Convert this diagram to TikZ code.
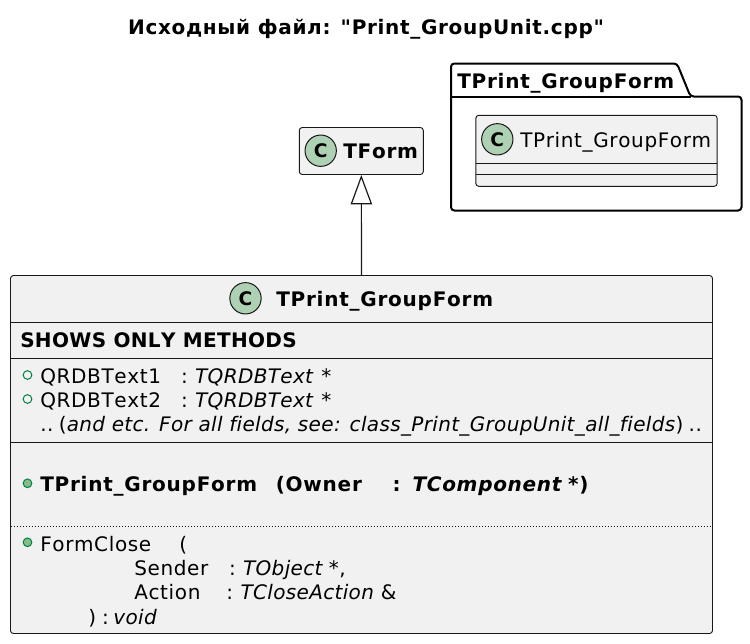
\documentclass[tikz,border=0pt]{standalone}
\usepackage{fontspec}
\usepackage{xcolor}
\usetikzlibrary{arrows.meta}
\setmainfont{DejaVu Sans}[
    Ligatures={TeXOff,CommonOff},
    Kerning=Off,
    UprightFeatures={LetterSpace=3.2},
    BoldFeatures={LetterSpace=3.8},
    ItalicFeatures={LetterSpace=1.7},
    BoldItalicFeatures={LetterSpace=3.5}
]
\newfontfamily\titlefont{DejaVu Sans}[
    Ligatures={TeXOff,CommonOff},
    Kerning=Off,
    BoldFeatures={LetterSpace=3.4}
]
\newfontfamily\stereofont{DejaVu Sans}[
    Ligatures={TeXOff,CommonOff},
    Kerning=Off,
    BoldFeatures={LetterSpace=1.7}
]

\definecolor{boxfill}{HTML}{F1F1F1}
\definecolor{boxline}{HTML}{181818}
\definecolor{spotfill}{HTML}{ADD1B2}
\definecolor{markline}{HTML}{038048}
\definecolor{markfill}{HTML}{84BE84}

\begin{document}
\begin{tikzpicture}[
    x=0.75pt,
    y=-0.75pt,
    classbox/.style={
        draw=boxline,
        fill=boxfill,
        rounded corners=2.2pt,
        line width=0.7pt,
        inner sep=0pt
    },
    spot/.style={
        circle,
        draw=boxline,
        fill=spotfill,
        line width=0.75pt,
        minimum size=23.5pt,
        inner sep=0pt,
        font=\fontsize{14}{14}\selectfont\bfseries
    },
    member/.style={
        anchor=base west,
        inner sep=0pt,
        font=\fontsize{15}{18}\selectfont
    },
    bold/.style={
        member,
        font=\fontsize{15}{18}\selectfont\bfseries
    },
    field/.style={
        circle,
        draw=markline,
        fill=boxfill,
        line width=0.75pt,
        minimum size=6.5pt,
        inner sep=0pt
    },
    method/.style={
        field,
        fill=markfill
    },
    divider/.style={
        draw=boxline,
        line width=0.7pt
    },
    inherit/.style={
        -{Triangle[open,length=22pt,width=16pt]},
        draw=boxline,
        line width=0.9pt
    }
]
\useasboundingbox (0,0) rectangle (750,643);

\node[anchor=base,inner sep=0pt,font=\titlefont\fontsize{15}{18}\selectfont\bfseries] (title) at (366,34)
{
    Исходный файл: "Print\_GroupUnit.cpp"
};

% package
\draw[line width=1.5pt,rounded corners=2.5pt,draw=black]
    (451,96.5) -- (451,63.5) -- (677,63.5) -- (690.5,96.5) -- (741.5,96.5)
    -- (741.5,210.5) -- (451,210.5) -- cycle;
\draw[line width=1.5pt,draw=black] (451,96.5) -- (690.5,96.5);

\node[bold] (pkglabel) at (457,88)
{
    TPrint\_GroupForm
};

\node[classbox,minimum width=181pt,minimum height=53.25pt] (inner) at (596.5,150.8) {};

\draw[divider] (475.7,163.3) -- (717.3,163.3);
\draw[divider] (475.7,174.3) -- (717.3,174.3);

\node[spot] (innerspot) at (497.3,139.3) {C};

\node[member] (innername) at (520,147.5)
{
    TPrint\_GroupForm
};

% base class
\node[classbox,minimum width=93pt,minimum height=35.25pt] (tform) at (361.3,151) {};

\node[spot] (tformspot) at (320.7,150.7) {C};

\node[bold] (tformname) at (343,158.5)
{
    TForm
};

% main class
\node[classbox,minimum width=526.5pt,minimum height=268.5pt] (main) at (361.5,454.5) {};

\node[spot] (mainspot) at (245.5,298.3) {C};

\node[bold] (mainname) at (276,306)
{
    TPrint\_GroupForm
};

\draw[divider] (10.5,322.3) -- (712.5,322.3);
\draw[divider] (10.5,358.3) -- (712.5,358.3);
\draw[divider] (10.5,442.3) -- (712.5,442.3);
\draw[divider,dash pattern=on 0.75pt off 1.5pt] (10.5,526.7) -- (712.5,526.7);

\node[member,font=\stereofont\fontsize{15}{18}\selectfont\bfseries] (stereo) at (20,347.3)
{
    SHOWS ONLY METHODS
};

\node[field] (markone) at (27.5,375) {};
\node[member] (fieldone) at (40,383.3)
{
    QRDBText1\hspace{15pt}:\hspace{5.5pt}\textit{TQRDBText}\hspace{5.5pt}*
};

\node[field] (marktwo) at (27.5,399) {};
\node[member] (fieldtwo) at (40,407.3)
{
    QRDBText2\hspace{15pt}:\hspace{5.5pt}\textit{TQRDBText}\hspace{5.5pt}*
};

\node[member] (fieldrest) at (40,431.5)
{
    ..\hspace{4pt}(\textit{and etc. For all fields, see: class\_Print\_GroupUnit\_all\_fields})\hspace{4pt}..
};

\node[method] (markctor) at (27.5,483.3) {};
\node[bold] (ctor) at (40,491.7)
{
    TPrint\_GroupForm\hspace{14pt}(Owner\hspace{23pt}:\hspace{9pt}\textit{TComponent}\hspace{4pt}*)
};

\node[method] (markclose) at (27.5,542.3) {};
\node[member] (close) at (40,551.7)
{
    FormClose\hspace{21pt}(
};

\node[member] (sender) at (134,575.5)
{
    Sender\hspace{15.5pt}:\hspace{5.5pt}\textit{TObject}\hspace{4pt}*,
};

\node[member] (action) at (134,599.5)
{
    Action\hspace{19.5pt}:\hspace{5.5pt}\textit{TCloseAction}\hspace{5pt}\&
};

\node[member] (closeend) at (88,624)
{
    )\hspace{4.5pt}:\hspace{3.5pt}\textit{void}
};

\draw[inherit] (main.north) -- (tform.south);

\end{tikzpicture}
\end{document}
